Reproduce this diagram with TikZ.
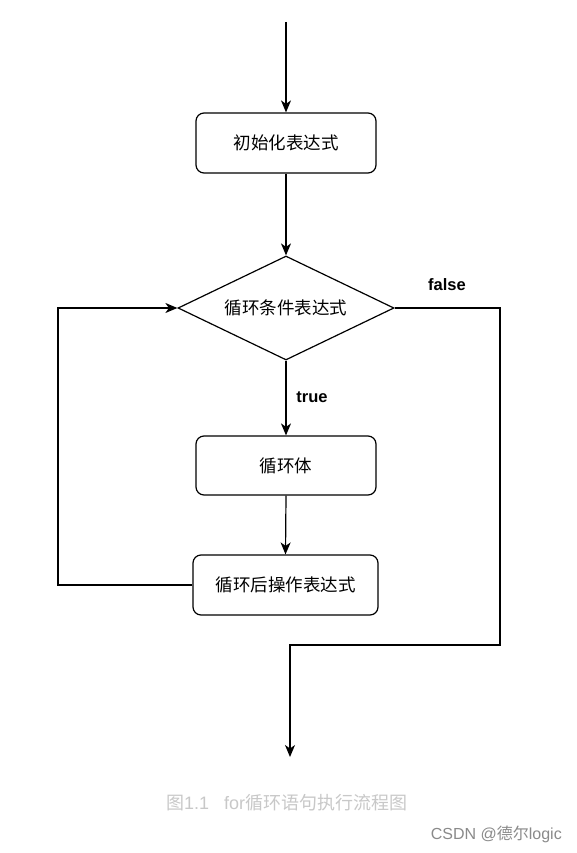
\documentclass[tikz,border=0pt]{standalone}
\usepackage{fontspec}
\setmainfont{Liberation Sans}
\newfontfamily\cjk{Noto Sans CJK SC}
\usetikzlibrary{shapes.geometric,arrows.meta}
\definecolor{capgray}{HTML}{C8C8C8}
\definecolor{wmgray}{HTML}{8A8A8A}
\begin{document}
\begin{tikzpicture}[x=1pt,y=-1pt,
  every node/.style={font=\fontsize{17.5}{20}\selectfont\cjk, inner sep=0pt},
  procbox/.style={draw, line width=1.2pt, rounded corners=8pt},
  decbox/.style={draw, diamond, shape aspect=2.08, line width=1.2pt, minimum width=216pt, minimum height=104pt},
  conn/.style={line width=1.2pt, -{Stealth[length=12pt,width=10pt,inset=3.5pt]}},
  lbl/.style={font=\fontsize{16.5}{18}\selectfont\bfseries},
]
\useasboundingbox (0,0) rectangle (576,853);
\fill[white] (0,0) rectangle (576,853);

\coordinate (start) at (286,22);
\node[procbox, minimum width=180pt, minimum height=60pt] (init) at (286,143) {初始化表达式};
\node[decbox] (cond) at (286,308) {循环条件表达式};
\node[procbox, minimum width=180pt, minimum height=59pt] (body) at (286,465.5) {循环体};
\node[procbox, minimum width=185pt, minimum height=60pt] (post) at (285.5,585) {循环后操作表达式};

\coordinate (l1) at (58,585);
\coordinate (l2) at (58,308);
\coordinate (f1) at (500,308);
\coordinate (f2) at (500,645);
\coordinate (f3) at (290,645);
\coordinate (fend) at (290,757);

\draw[conn] (start) -- (init.north);
\draw[conn] (init.south) -- (cond.north);
\draw[conn] (cond.south) -- (body.north);
\draw[conn] (body.south) -- (post.north);
\draw[conn] (post.west) -- (l1) -- (l2) -- (cond.west);
\draw[conn] (cond.east) -- (f1) -- (f2) -- (f3) -- (fend);

\node[lbl] (truelbl) at (312,397) {true};
\node[lbl] (falselbl) at (447,285) {false};

\node[text=capgray, font=\fontsize{18}{20}\selectfont, anchor=west] (cap) at (166,803) {{\cjk 图}1.1\hspace{15pt}for{\cjk 循环语句执行流程图}};
\node[text=wmgray, font=\fontsize{16}{18}\selectfont, anchor=east] (wm) at (562,834) {CSDN @{\cjk 德尔}logic};
\end{tikzpicture}
\end{document}
